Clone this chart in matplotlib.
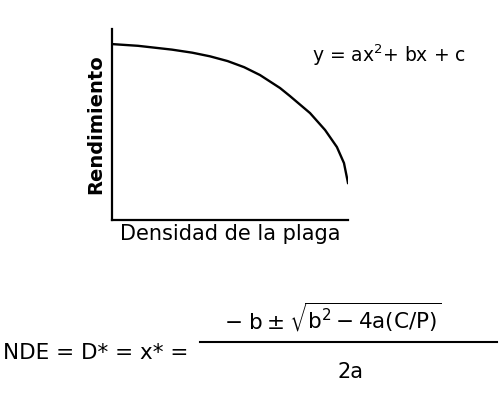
import matplotlib.pyplot as plt
from matplotlib.lines import Line2D

# curve (density 0-100, yield 0-100)
density = [0, 11.0, 25.4, 34.0, 41.5, 49.0, 56.0, 62.7, 71.2, 75.4, 83.9, 90.3, 95.3, 98.3, 100]
yield_ = [92.1, 91.2, 89.2, 87.6, 85.7, 83.2, 80.0, 75.9, 69.1, 64.9, 56.0, 47.1, 38.2, 29.8, 19.4]

xlabel = "Densidad de la plaga"
ylabel = "Rendimiento"
model_eq = r"y = ax$^{2}$+ bx + c"
nde_left = "NDE = D* = x* ="
numerator = r"$\mathrm{-\ b} \pm \sqrt{\mathrm{b^{2} - 4a(C/P)}}$"
denominator = "2a"

plt.rcParams['font.family'] = ['DejaVu Sans']
plt.rcParams['mathtext.fontset'] = 'dejavusans'

fig = plt.figure(figsize=(5.01, 3.94), dpi=100)
ax = fig.add_axes([0.2236, 0.4416, 0.471, 0.4848])

ax.plot(density, yield_, color='black', linewidth=1.7, solid_joinstyle='round')
ax.set_xlim(0, 100)
ax.set_ylim(0, 100)
ax.spines['top'].set_visible(False)
ax.spines['right'].set_visible(False)
for s in ['left', 'bottom']:
    ax.spines[s].set_linewidth(1.6)
ax.set_xticks([])
ax.set_yticks([])
ax.set_xlabel(xlabel, fontsize=15, labelpad=3)
ax.set_ylabel(ylabel, fontsize=14, fontweight='bold', labelpad=5)

fig.text(0.622, 0.86, model_eq, fontsize=13.5, va='center', ha='left')

# formula for the economic threshold
fig.text(0.006, 0.105, nde_left, fontsize=15.5, va='center', ha='left')
fig.add_artist(Line2D([0.399, 0.992], [0.132, 0.132], color='black', linewidth=1.5))
fig.text(0.665, 0.195, numerator, fontsize=15.5, va='center', ha='center')
fig.text(0.70, 0.055, denominator, fontsize=15, va='center', ha='center')

fig.savefig("out.png", dpi=100)
